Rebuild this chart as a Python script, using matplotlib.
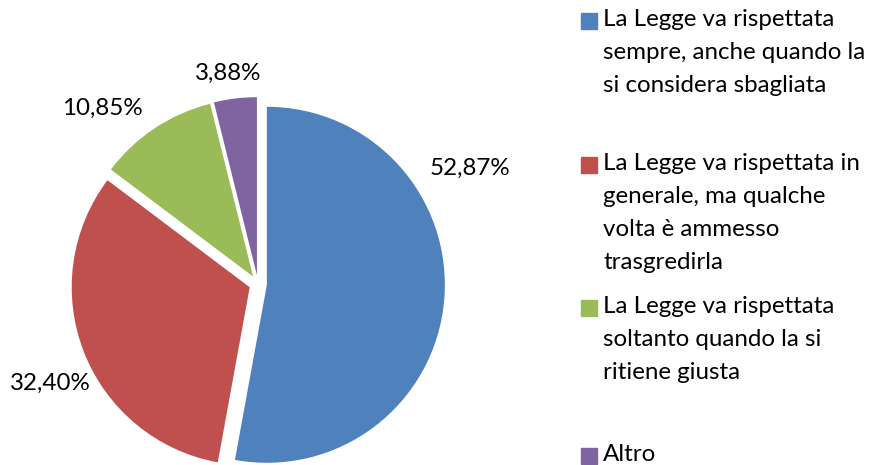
import matplotlib
matplotlib.use("Agg")
import matplotlib.pyplot as plt
from matplotlib.patches import Rectangle

categories = [
    "La Legge va rispettata\nsempre, anche quando la\nsi considera sbagliata",
    "La Legge va rispettata in\ngenerale, ma qualche\nvolta è ammesso\ntrasgredirla",
    "La Legge va rispettata\nsoltanto quando la si\nritiene giusta",
    "Altro",
]
values = [52.87, 32.40, 10.85, 3.88]
colors = ["#4F81BD", "#C0504D", "#9BBB59", "#8064A2"]

plt.rcParams['font.family'] = ['Lato', 'DejaVu Sans']
FS = 17.4

W, H = 878, 465
fig = plt.figure(figsize=(W / 100, H / 100), dpi=100)

# pie axes: center at pixel (258, 284 from top), radius 178 px
cx, cy, R = 258, 284, 178
ax = fig.add_axes([0, 0, 2 * cx / W, 1])
wedges, texts, autotexts = ax.pie(
    values, colors=colors, startangle=90, counterclock=False,
    explode=[0.05] * 4, radius=1.0,
    autopct=lambda p: f"{p:.2f}%".replace(".", ","),
    pctdistance=1.25,
    wedgeprops=dict(linewidth=0),
    textprops=dict(fontsize=FS, color="black"),
)
ax.set_aspect('auto')
ax.set_xlim(-cx / R, cx / R)
ax.set_ylim(-(H - cy) / R, cy / R)
ax.axis('off')

label_pos = [(1.19, 0.652), (-1.169, -0.556), (-0.876, 0.989), (-0.169, 1.185)]
for t, (x, y) in zip(autotexts, label_pos):
    t.set_position((x, y))
    t.set_ha('center')
    t.set_va('center')

# legend (manual)
entry_y = [21, 165, 308, 456]  # center of first line, px from top
for lab, col, y in zip(categories, colors, entry_y):
    fig.patches.append(Rectangle((581 / W, 1 - (y + 8) / H), 16 / W, 16 / H,
                                 transform=fig.transFigure, color=col))
    fig.text(603 / W, 1 - (y - 12) / H, lab, fontsize=FS, ha='left', va='top',
             linespacing=1.71)

fig.savefig("out.png", dpi=100)
